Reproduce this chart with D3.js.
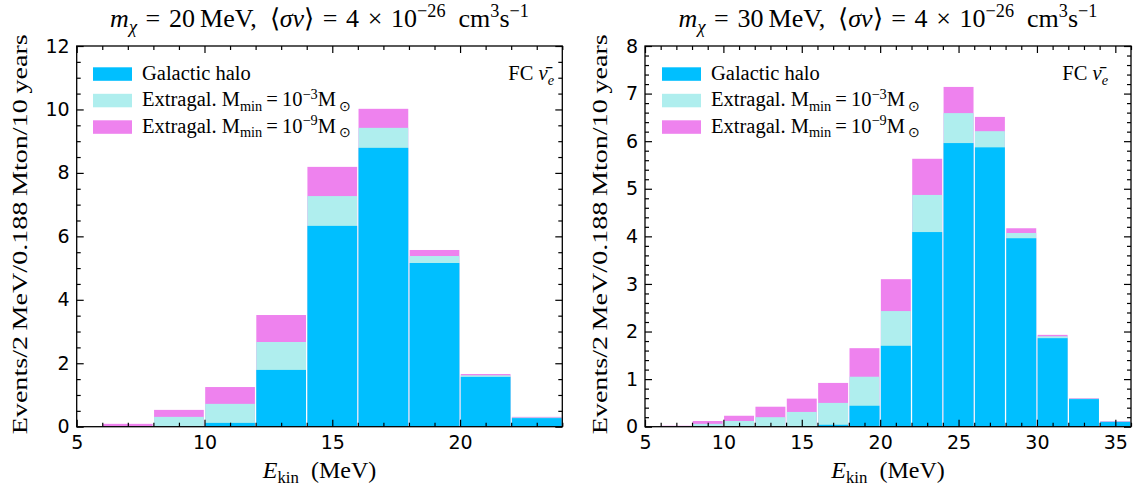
<!DOCTYPE html>
<html><head><meta charset="utf-8">
<script src="https://cdn.jsdelivr.net/npm/d3@7"></script>
<style>
html,body{margin:0;padding:0;background:#fff;}
svg{display:block;}
</style></head>
<body>
<script>
// ---------------- DATA ----------------
// Left panel: m_chi = 20 MeV (bin lower edges, width 2 MeV)
const binsLeft   = [6, 8, 10, 12, 14, 16, 18, 20, 22];
const haloLeft   = [0.00, 0.00, 0.12, 1.79, 6.33, 8.79, 5.16, 1.57, 0.27];
const extra3Left = [0.01, 0.31, 0.72, 2.67, 7.27, 9.42, 5.38, 1.62, 0.29];
const extra9Left = [0.09, 0.53, 1.25, 3.52, 8.19, 10.02, 5.57, 1.66, 0.31];

// Right panel: m_chi = 30 MeV
const binsRight   = [6, 8, 10, 12, 14, 16, 18, 20, 22, 24, 26, 28, 30, 32, 34];
const haloRight   = [0.00, 0.00, 0.00, 0.00, 0.00, 0.04, 0.44, 1.70, 4.09, 5.96, 5.87, 3.96, 1.86, 0.58, 0.10];
const extra3Right = [0.005, 0.06, 0.12, 0.20, 0.31, 0.50, 1.05, 2.43, 4.87, 6.59, 6.21, 4.07, 1.90, 0.59, 0.11];
const extra9Right = [0.02, 0.12, 0.23, 0.42, 0.59, 0.92, 1.65, 3.10, 5.63, 7.14, 6.51, 4.17, 1.93, 0.60, 0.12];

const binWidth = 2;
const xTicksLeft  = [5, 10, 15, 20];
const yTicksLeft  = [0, 2, 4, 6, 8, 10, 12];
const xTicksRight = [5, 10, 15, 20, 25, 30, 35];
const yTicksRight = [0, 1, 2, 3, 4, 5, 6, 7, 8];
const massLabels  = ["20", "30"];

const colors = {halo: "#00BFFF", e3: "#AFEEEE", e9: "#EE82EE"};

// ---------------- LAYOUT ----------------
const W = 1136, H = 486;
const SERIF = "'Liberation Serif', 'Times New Roman', serif";
const SANS = "'DejaVu Sans', sans-serif";

const svg = d3.select("body").append("svg").attr("width", W).attr("height", H);

function rich(text, segs, base) {
  let cur = 0;
  segs.forEach(s => {
    let target = 0, size = base;
    if (s.sup) { target = -base * 0.38; size = base * 0.7; }
    if (s.sub) { target = base * 0.22; size = base * 0.7; }
    const ts = text.append("tspan").text(s.t).attr("dy", target - cur).attr("font-size", size);
    if (s.i) ts.attr("font-style", "italic");
    cur = target;
  });
}

const panels = [
  {x0: 76.7, x1: 562.3, y0: 46, y1: 426.7, xd: [5, 24], yd: [0, 12],
   bins: binsLeft, halo: haloLeft, e3: extra3Left, e9: extra9Left,
   xt: xTicksLeft, yt: yTicksLeft, xminor: 1, yminor: 0.5, mass: massLabels[0],
   legX: 93, fcX: 554, ylabX: 27},
  {x0: 645, x1: 1131, y0: 46, y1: 426.7, xd: [5, 36], yd: [0, 8],
   bins: binsRight, halo: haloRight, e3: extra3Right, e9: extra9Right,
   xt: xTicksRight, yt: yTicksRight, xminor: 1, yminor: 0.2, mass: massLabels[1],
   legX: 662, fcX: 1108, ylabX: 607}
];

panels.forEach(p => {
  const x = d3.scaleLinear().domain(p.xd).range([p.x0, p.x1]);
  const y = d3.scaleLinear().domain(p.yd).range([p.y1, p.y0]);
  const g = svg.append("g");

  // bars: drawn back to front (violet, turquoise, blue)
  const layers = [["e9", p.e9], ["e3", p.e3], ["halo", p.halo]];
  layers.forEach(([key, vals]) => {
    g.append("g").selectAll("rect").data(p.bins.map((b, i) => ({b, v: vals[i]})))
      .join("rect")
      .attr("x", d => x(d.b) + 0.7)
      .attr("width", d => x(d.b + binWidth) - x(d.b) - 1.4)
      .attr("y", d => y(d.v))
      .attr("height", d => y(0) - y(d.v))
      .attr("fill", colors[key]);
  });

  const xMinor = d3.range(p.xd[0], p.xd[1] + 1e-9, p.xminor).filter(v => !p.xt.includes(v));
  const yMinor = d3.range(p.yd[0], p.yd[1] + 1e-9, p.yminor).map(v => +v.toFixed(3)).filter(v => !p.yt.some(t => Math.abs(t - v) < 1e-6));

  const styleAxis = sel => {
    sel.select(".domain").remove();
    sel.selectAll(".tick line").attr("stroke", "#000").attr("stroke-width", 1.2);
    sel.selectAll(".tick text").attr("font-family", SANS).attr("font-size", 19).attr("fill", "#000");
  };

  g.append("g").attr("transform", `translate(0,${p.y1})`)
    .call(d3.axisBottom(x).tickValues(p.xt).tickSize(-7).tickPadding(9).tickFormat(d3.format("d"))).call(styleAxis);
  g.append("g").attr("transform", `translate(0,${p.y1})`)
    .call(d3.axisBottom(x).tickValues(xMinor).tickSize(-4).tickFormat("")).call(styleAxis);
  g.append("g").attr("transform", `translate(0,${p.y0})`)
    .call(d3.axisTop(x).tickValues(p.xt).tickSize(-7).tickFormat("")).call(styleAxis);
  g.append("g").attr("transform", `translate(0,${p.y0})`)
    .call(d3.axisTop(x).tickValues(xMinor).tickSize(-4).tickFormat("")).call(styleAxis);

  g.append("g").attr("transform", `translate(${p.x0},0)`)
    .call(d3.axisLeft(y).tickValues(p.yt).tickSize(-7).tickPadding(7).tickFormat(d3.format("d"))).call(styleAxis);
  g.append("g").attr("transform", `translate(${p.x0},0)`)
    .call(d3.axisLeft(y).tickValues(yMinor).tickSize(-4).tickFormat("")).call(styleAxis);
  g.append("g").attr("transform", `translate(${p.x1},0)`)
    .call(d3.axisRight(y).tickValues(p.yt).tickSize(-7).tickFormat("")).call(styleAxis);
  g.append("g").attr("transform", `translate(${p.x1},0)`)
    .call(d3.axisRight(y).tickValues(yMinor).tickSize(-4).tickFormat("")).call(styleAxis);

  g.append("rect").attr("x", p.x0).attr("y", p.y0).attr("width", p.x1 - p.x0).attr("height", p.y1 - p.y0)
    .attr("fill", "none").attr("stroke", "#000").attr("stroke-width", 1.3);

  // title
  const cx = (p.x0 + p.x1) / 2;
  const t = g.append("text").attr("x", cx).attr("y", 27).attr("text-anchor", "middle")
    .attr("font-family", SERIF).attr("font-size", 26).attr("fill", "#000");
  rich(t, [
    {t: "m", i: true}, {t: "χ", i: true, sub: true},
    {t: "\u2004=\u2004" + p.mass + "\u2009MeV,\u2002\u27E8"}, {t: "σv", i: true},
    {t: "\u27E9\u2004=\u20044\u2004×\u200410"},
    {t: "−26", sup: true}, {t: "\u2002cm"}, {t: "3", sup: true}, {t: "s"}, {t: "−1", sup: true}
  ], 26);

  // x label
  const xl = g.append("text").attr("x", cx).attr("y", 478).attr("text-anchor", "middle")
    .attr("font-family", SERIF).attr("font-size", 24).attr("fill", "#000");
  rich(xl, [{t: "E", i: true}, {t: "kin", sub: true}, {t: "\u2002(MeV)"}], 24);

  // y label
  g.append("text").attr("transform", `translate(${p.ylabX},${(p.y0 + p.y1) / 2 - 2}) rotate(-90)`)
    .attr("text-anchor", "middle").attr("font-family", SERIF).attr("font-size", 22).attr("fill", "#000")
    .attr("textLength", 400).attr("lengthAdjust", "spacingAndGlyphs")
    .text("Events/2\u2009MeV/0.188\u2009Mton/10\u2009years");

  // legend
  const legRows = [
    {c: colors.halo, segs: [{t: "Galactic halo"}]},
    {c: colors.e3, segs: [{t: "Extragal. M"}, {t: "min", sub: true}, {t: "\u2009=\u200910"}, {t: "−3", sup: true}, {t: "M"}, {t: "\u2009⊙", sub: true}]},
    {c: colors.e9, segs: [{t: "Extragal. M"}, {t: "min", sub: true}, {t: "\u2009=\u200910"}, {t: "−9", sup: true}, {t: "M"}, {t: "\u2009⊙", sub: true}]}
  ];
  legRows.forEach((r, i) => {
    const yy = 67.3 + i * 26.5;
    g.append("rect").attr("x", p.legX).attr("y", yy).attr("width", 39).attr("height", 13.5).attr("fill", r.c);
    const tx = g.append("text").attr("x", p.legX + 49).attr("y", yy + 12.5)
      .attr("font-family", SERIF).attr("font-size", 20.5).attr("fill", "#000");
    rich(tx, r.segs, 20.5);
  });

  // FC label
  const fc = g.append("text").attr("x", p.fcX).attr("y", 80).attr("text-anchor", "end")
    .attr("font-family", SERIF).attr("font-size", 20.5).attr("fill", "#000");
  rich(fc, [{t: "FC "}, {t: "ν̄", i: true}, {t: "e", i: true, sub: true}], 20.5);
});
</script>
</body></html>
